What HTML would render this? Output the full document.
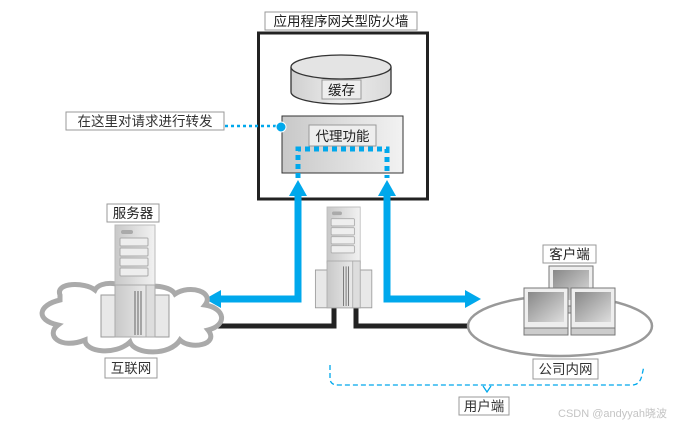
<!DOCTYPE html>
<html><head><meta charset="utf-8"><style>
body{margin:0;background:#fff}
svg text{font-family:"Liberation Sans","Noto Sans CJK SC",sans-serif}
</style></head><body>
<svg width="681" height="427" viewBox="0 0 681 427" xmlns="http://www.w3.org/2000/svg">
<defs>
<linearGradient id="g1" x1="0" x2="1"><stop offset="0" stop-color="#cfcfcf"/><stop offset="0.5" stop-color="#ededed"/><stop offset="1" stop-color="#d9d9d9"/></linearGradient>
<linearGradient id="g2" x1="0" x2="1"><stop offset="0" stop-color="#c8c8c8"/><stop offset="1" stop-color="#f2f2f2"/></linearGradient>
<linearGradient id="mon" x1="0" y1="0" x2="1" y2="1"><stop offset="0" stop-color="#888"/><stop offset="1" stop-color="#ddd"/></linearGradient>
<g id="srv">
<rect x="0" y="0" width="40" height="62" fill="url(#g2)" stroke="#bbb"/>
<rect x="6" y="5" width="12" height="4" rx="2" fill="#aaa"/>
<rect x="5" y="13" width="28" height="8" rx="1" fill="#eee" stroke="#aaa"/>
<rect x="5" y="23" width="28" height="8" rx="1" fill="#eee" stroke="#aaa"/>
<rect x="5" y="33" width="28" height="8" rx="1" fill="#eee" stroke="#aaa"/>
<rect x="5" y="43" width="28" height="8" rx="1" fill="#eee" stroke="#aaa"/>
<rect x="-14" y="70" width="68" height="42" fill="#e8e8e8" stroke="#999"/>
<rect x="0" y="60" width="40" height="52" fill="url(#g2)" stroke="#aaa"/>
<rect x="31" y="60" width="9" height="52" fill="#ddd" stroke="#aaa"/>
<line x1="20" y1="66" x2="20" y2="110" stroke="#666"/><line x1="23" y1="66" x2="23" y2="110" stroke="#666"/><line x1="26" y1="66" x2="26" y2="110" stroke="#666"/>
</g>
<g id="mn">
<rect x="0" y="0" width="44" height="40" fill="#eee" stroke="#777"/>
<rect x="4" y="4" width="36" height="30" fill="url(#mon)"/>
<rect x="0" y="40" width="44" height="7" fill="#ccc" stroke="#777"/>
</g>
</defs>

<!-- firewall -->
<rect x="265" y="12" width="152" height="18" fill="#fff" stroke="#999"/>
<text x="341" y="26" font-size="13.5" text-anchor="middle" fill="#222">应用程序网关型防火墙</text>
<rect x="258.5" y="33" width="169" height="166" fill="none" stroke="#222" stroke-width="3"/>
<path d="M291 67 V92 A50 12 0 0 0 391 92 V67" fill="url(#g1)" stroke="#333" stroke-width="1.3"/>
<ellipse cx="341" cy="67" rx="50" ry="12" fill="#e4e4e4" stroke="#333" stroke-width="1.3"/>
<rect x="322" y="80" width="39" height="19" fill="#eee" stroke="#999"/>
<text x="341.5" y="95" font-size="13.5" text-anchor="middle" fill="#222">缓存</text>
<rect x="282" y="116" width="121" height="57" fill="url(#g2)" stroke="#333"/>
<rect x="309" y="125" width="67" height="21" fill="#eee" stroke="#999"/>
<text x="342.5" y="141" font-size="13.5" text-anchor="middle" fill="#222">代理功能</text>
<path d="M298 178 V149 H387 V178" fill="none" stroke="#00a8ec" stroke-width="5" stroke-dasharray="5 4"/>
<line x1="225" y1="126" x2="276" y2="126" stroke="#00a8ec" stroke-width="2.5" stroke-dasharray="3 3"/>
<circle cx="281" cy="127" r="5" fill="#00a8ec" stroke="#fff"/>
<rect x="66" y="112" width="158" height="18" fill="#fff" stroke="#999"/>
<text x="145" y="126" font-size="13.5" text-anchor="middle" fill="#333">在这里对请求进行转发</text>

<!-- blue arrows -->
<path d="M298 195 V299 H218" fill="none" stroke="#00a8ec" stroke-width="7"/>
<polygon points="205,299 221,290 221,308" fill="#00a8ec"/>
<polygon points="298,180 289,196 307,196" fill="#00a8ec"/>
<path d="M387 195 V299 H468" fill="none" stroke="#00a8ec" stroke-width="7"/>
<polygon points="481,299 465,290 465,308" fill="#00a8ec"/>
<polygon points="387,180 378,196 396,196" fill="#00a8ec"/>

<!-- black lines -->
<path d="M334 306 V326 H215" fill="none" stroke="#222" stroke-width="5"/>
<path d="M356 306 V326 H470" fill="none" stroke="#222" stroke-width="5"/>

<!-- middle server -->
<use href="#srv" transform="translate(327,207) scale(0.83,0.9)"/>

<!-- cloud -->
<path d="M60 295 C55 282 85 282 95 290 C100 280 125 282 130 292 C145 283 170 285 175 294 C190 284 215 292 205 305 C225 308 228 325 208 330 C220 345 190 350 180 340 C170 356 135 355 130 342 C115 356 85 352 85 340 C60 350 45 335 58 325 C35 320 38 305 60 300 Z" fill="#fff" stroke="#aaa" stroke-width="5"/>
<use href="#srv" transform="translate(115,225)"/>
<rect x="107" y="204" width="52" height="18" fill="#fff" stroke="#999"/>
<text x="133" y="218" font-size="13.5" text-anchor="middle" fill="#222">服务器</text>
<rect x="105" y="358" width="52" height="20" fill="#fff" stroke="#999"/>
<text x="131" y="373" font-size="13.5" text-anchor="middle" fill="#333">互联网</text>

<!-- client -->
<ellipse cx="560" cy="326" rx="92" ry="30" fill="#fff" stroke="#999" stroke-width="2.5"/>
<use href="#mn" transform="translate(549,266)"/>
<use href="#mn" transform="translate(524,288)"/>
<use href="#mn" transform="translate(571,288)"/>
<rect x="543" y="245" width="53" height="18" fill="#fff" stroke="#999"/>
<text x="569.5" y="259" font-size="13.5" text-anchor="middle" fill="#222">客户端</text>
<rect x="533" y="359" width="65" height="20" fill="#fff" stroke="#999"/>
<text x="565.5" y="374" font-size="13.5" text-anchor="middle" fill="#333">公司内网</text>

<!-- bracket -->
<path d="M330 365 V378 Q330 385 338 385 H632 Q640 385 642 375 L644 366" fill="none" stroke="#00a8ec" stroke-width="1.3" stroke-dasharray="5 3"/>
<path d="M483 386 L487 392 L491 386" fill="none" stroke="#00a8ec" stroke-width="1.3"/>
<rect x="459" y="397" width="50" height="18" fill="#fff" stroke="#999"/>
<text x="484" y="411" font-size="13.5" text-anchor="middle" fill="#333">用户端</text>
<text x="558" y="417" font-size="11" fill="#c4c4c4">CSDN @andyyah晓波</text>
</svg>
</body></html>
